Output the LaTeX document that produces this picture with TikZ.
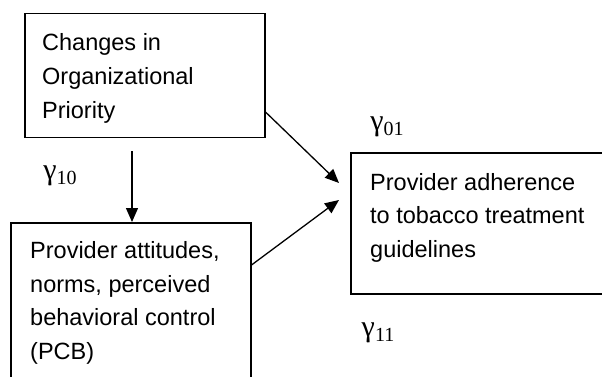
\documentclass[tikz,border=0pt]{standalone}
\usepackage{fontspec}
\setmainfont{Liberation Sans}
\newfontfamily\gfont{Liberation Serif}
\newcommand{\gsub}[1]{{\gfont γ\raisebox{-5pt}{\fontsize{20}{22}\selectfont #1}}}
\usetikzlibrary{arrows.meta,calc}
\begin{document}
\begin{tikzpicture}[x=1pt,y=1pt,
  box/.style={draw,line width=1.5pt,rectangle,inner sep=0pt,anchor=north west},
  txt/.style={align=left,inner sep=0pt,anchor=base west,font=\fontsize{23.5}{33.5}\selectfont},
  glab/.style={inner sep=0pt,font=\fontsize{30}{32}\selectfont},
  conn/.style={line width=1.3pt,-{Triangle[length=14pt,width=12pt]}}]
\useasboundingbox (0,0) rectangle (602,-377);
\clip (0,0) rectangle (602,-377);
\node[box,minimum width=240pt,minimum height=124pt] (b1) at (24,-13) {};
\node[box,minimum width=240pt,minimum height=190pt] (b2) at (10,-222) {};
\node[box,minimum width=270pt,minimum height=141pt] (b3) at (350,-152) {};
\node[txt] (t1) at (42,-118) {Changes in\\Organizational\\Priority};
\node[txt] (t2) at (30,-359) {Provider attitudes,\\norms, perceived\\behavioral control\\(PCB)};
\node[txt] (t3) at (370,-257) {Provider adherence\\to tobacco treatment\\guidelines};
\coordinate (s1) at (132,-151);
\coordinate (e1) at (339,-183);
\coordinate (e2) at (339,-200);
\draw[conn] (s1) -- (s1 |- b2.north);
\draw[conn] (b1.south east |- 0,-112) -- (e1);
\draw[conn] (b2.north east |- 0,-265) -- (e2);
\node[glab] (g01) at (387,-127) {\gsub{01}};
\node[glab] (g10) at (60,-176) {\gsub{10}};
\node[glab] (g11) at (378,-333) {\gsub{11}};
\end{tikzpicture}
\end{document}
